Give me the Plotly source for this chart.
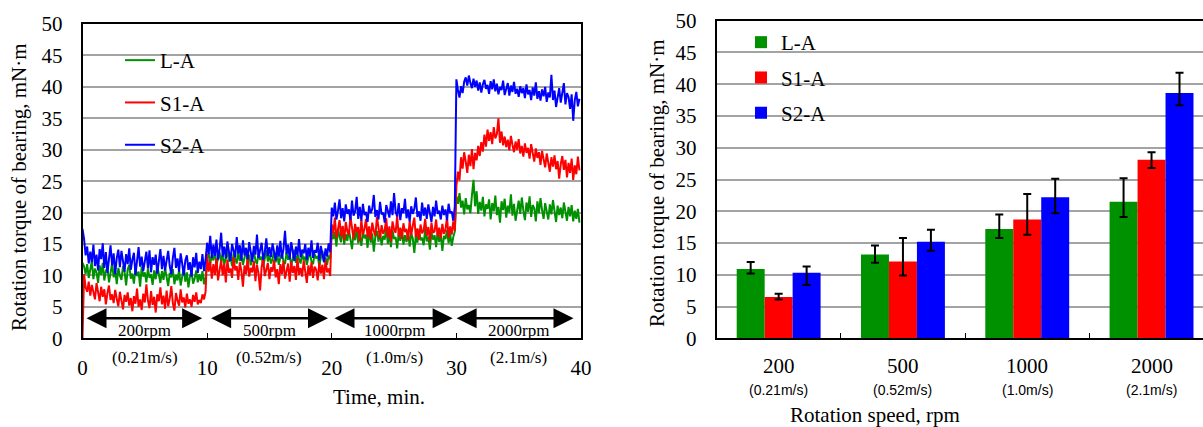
import plotly.graph_objects as go

# ---------------------------------------------------------------------------
# Torque records (mN·m), one reading every 0.125 min, 80 readings per speed step
# ---------------------------------------------------------------------------
SAMPLE_STEP_MIN = 0.125

la_200 = [12.0, 11.4, 10.2, 11.8, 9.6, 10.9, 12.3, 9.4, 11.1, 10.5,
          8.8, 11.6, 10.1, 12.0, 9.2, 10.7, 11.3, 8.9, 10.4, 11.9,
          9.7, 10.8, 8.6, 11.2, 10.0, 9.3, 11.5, 10.6, 8.4, 10.9,
          11.7, 9.5, 10.3, 8.7, 11.0, 9.9, 10.6, 8.2, 11.4, 9.8,
          10.5, 8.9, 11.1, 9.6, 10.2, 8.5, 10.8, 9.4, 11.6, 10.0,
          8.8, 10.7, 9.3, 11.2, 9.9, 8.3, 10.4, 9.7, 11.0, 8.6,
          10.1, 9.2, 10.9, 8.4, 9.8, 11.3, 9.0, 10.5, 8.1, 9.9,
          10.6, 8.7, 9.5, 10.8, 8.9, 10.2, 9.1, 10.7, 8.6, 9.7]
la_500 = [12.8, 13.6, 11.9, 13.2, 12.4, 14.0, 11.6, 12.9, 13.7, 12.1,
          13.4, 11.8, 12.6, 14.1, 12.2, 13.0, 11.5, 13.5, 12.7, 11.9,
          13.8, 12.3, 13.1, 11.7, 12.8, 14.2, 12.0, 13.3, 11.6, 12.9,
          13.9, 12.4, 11.8, 13.6, 12.5, 13.0, 11.4, 12.7, 14.0, 12.2,
          13.2, 11.9, 12.6, 13.8, 12.1, 13.4, 11.7, 12.9, 13.5, 12.3,
          11.8, 13.7, 12.5, 13.1, 11.6, 12.8, 14.1, 12.0, 13.3, 12.6,
          11.9, 13.5, 12.4, 13.0, 11.7, 12.9, 13.6, 12.2, 11.8, 13.4,
          12.7, 13.1, 11.5, 12.8, 13.9, 12.3, 12.9, 11.7, 13.2, 12.6]
la_1000 = [17.2, 15.8, 16.9, 14.6, 17.5, 16.1, 15.3, 17.8, 14.9, 16.6,
           15.5, 17.3, 16.0, 14.2, 16.8, 15.6, 17.6, 15.1, 16.4, 14.7,
           17.0, 15.9, 16.5, 14.4, 17.4, 15.2, 16.7, 13.8, 16.2, 17.1,
           15.4, 16.9, 14.8, 16.3, 15.7, 17.7, 15.0, 16.6, 14.5, 17.2,
           15.8, 16.1, 14.3, 16.8, 15.5, 17.4, 14.9, 16.4, 15.3, 17.0,
           14.6, 16.7, 15.9, 13.6, 16.5, 15.2, 17.3, 15.6, 16.0, 14.8,
           17.5, 15.4, 16.2, 14.1, 16.9, 15.7, 16.4, 14.5, 17.1, 15.3,
           16.6, 13.9, 16.3, 15.8, 17.2, 15.1, 16.7, 14.7, 16.1, 17.0]
la_2000 = [22.6, 21.4, 23.1, 20.8, 21.9, 19.7, 22.3, 20.5, 21.2, 19.9,
           22.8, 25.2, 21.0, 23.4, 19.8, 21.7, 20.3, 22.5, 19.4, 21.3,
           20.6, 22.1, 18.9, 21.5, 20.2, 22.7, 19.6, 20.9, 18.4, 21.8,
           20.4, 22.2, 19.2, 21.1, 20.0, 22.9, 19.5, 21.4, 18.7, 20.8,
           21.9, 19.8, 22.4, 20.3, 18.8, 21.6, 20.1, 22.6, 19.3, 21.2,
           20.7, 18.6, 21.8, 19.9, 22.3, 20.4, 19.0, 21.5, 20.2, 18.9,
           21.3, 19.7, 22.0, 20.5, 18.5, 21.1, 19.6, 20.8, 19.1, 21.6,
           20.0, 18.7, 20.9, 19.4, 21.2, 18.6, 20.3, 19.0, 20.6, 18.4]

s1_200 = [0.0, 10.2, 8.1, 7.4, 9.0, 6.8, 8.5, 7.1, 6.2, 8.8,
          7.5, 5.9, 8.2, 6.6, 7.8, 5.4, 7.2, 8.4, 6.1, 7.0,
          5.6, 7.7, 6.3, 5.1, 7.4, 6.0, 4.6, 6.9, 5.8, 7.3,
          5.2, 6.4, 4.3, 6.7, 5.5, 7.9, 5.0, 6.2, 4.5, 7.1,
          5.7, 8.6, 6.0, 4.8, 7.5, 5.3, 6.6, 4.1, 7.0, 5.9,
          8.1, 5.4, 6.8, 4.7, 7.6, 5.1, 6.3, 8.3, 5.6, 4.4,
          7.2, 6.0, 5.2, 7.8, 5.7, 6.5, 4.9, 7.1, 5.5, 6.2,
          5.0, 6.9, 5.8, 7.3, 5.4, 6.1, 5.6, 7.0, 6.2, 7.4]
s1_500 = [13.4, 10.6, 12.2, 9.5, 11.8, 10.1, 12.7, 9.2, 11.3, 12.4,
          10.0, 11.9, 8.9, 12.5, 10.4, 11.1, 9.6, 12.9, 10.8, 11.5,
          9.3, 12.1, 10.7, 8.2, 11.6, 10.2, 12.8, 9.8, 11.2, 10.5,
          12.3, 9.1, 11.7, 10.3, 7.6, 11.4, 12.6, 9.9, 10.9, 12.0,
          9.4, 11.3, 10.6, 12.5, 9.7, 11.0, 8.6, 11.8, 10.2, 12.3,
          9.5, 10.8, 11.9, 9.0, 12.2, 10.4, 11.5, 9.3, 12.7, 10.1,
          11.2, 9.8, 12.4, 10.6, 8.8, 11.6, 10.0, 12.1, 9.6, 11.4,
          10.9, 9.2, 12.0, 10.3, 11.7, 9.4, 12.6, 10.5, 11.1, 9.9]
s1_1000 = [18.1, 16.7, 19.2, 15.9, 17.6, 18.8, 16.2, 17.9, 15.6, 18.5,
           17.0, 16.4, 19.4, 17.3, 15.8, 18.2, 16.9, 17.7, 15.5, 18.9,
           16.5, 17.4, 19.0, 16.1, 17.8, 15.7, 18.4, 17.1, 16.3, 19.3,
           17.5, 15.9, 18.0, 16.6, 17.2, 19.1, 16.0, 17.8, 15.4, 18.6,
           17.3, 16.8, 19.5, 16.2, 17.6, 15.8, 18.3, 16.9, 17.4, 15.6,
           18.7, 16.4, 17.9, 19.2, 16.1, 17.5, 15.7, 18.1, 16.7, 17.2,
           19.0, 16.3, 17.7, 15.5, 18.4, 16.8, 17.0, 18.9, 16.2, 17.6,
           15.9, 18.2, 16.6, 17.3, 19.3, 16.0, 17.8, 16.5, 18.6, 17.1]
s1_2000 = [24.2, 26.5, 25.1, 28.8, 27.0, 29.6, 28.1, 26.3, 29.2, 27.4,
           30.1, 26.9, 29.5, 28.3, 30.6, 29.0, 31.2, 29.7, 32.4, 30.5,
           33.2, 31.4, 32.8, 30.9, 33.6, 31.8, 32.5, 35.0, 31.1, 32.9,
           30.7, 32.1, 30.4, 31.6, 29.9, 32.2, 30.8, 29.6, 31.3, 30.0,
           31.7, 29.4, 30.6, 28.9, 31.0, 29.5, 30.3, 28.6, 30.9, 29.2,
           28.1, 30.2, 28.7, 29.6, 27.6, 29.8, 28.3, 27.2, 29.4, 28.0,
           26.5, 28.8, 27.3, 29.1, 26.9, 28.2, 25.4, 27.7, 29.0, 26.8,
           28.4, 25.6, 27.9, 26.3, 28.6, 25.2, 27.5, 26.1, 28.9, 26.7]

s2_200 = [17.4, 15.8, 13.2, 14.6, 11.9, 13.8, 12.1, 14.9, 11.5, 13.3,
          10.8, 14.2, 12.6, 15.1, 11.2, 13.7, 10.4, 12.9, 14.8, 11.6,
          13.5, 10.2, 12.8, 14.1, 11.3, 13.9, 12.2, 10.6, 13.4, 11.8,
          14.3, 10.9, 12.5, 13.6, 10.1, 12.7, 14.5, 11.4, 13.0, 10.7,
          12.4, 13.8, 11.1, 14.0, 10.5, 12.9, 11.7, 13.3, 10.3, 12.6,
          14.2, 11.0, 13.1, 10.8, 12.3, 13.9, 11.5, 10.2, 12.8, 14.4,
          11.2, 12.7, 10.6, 13.5, 11.9, 10.0, 12.4, 13.2, 10.9, 12.1,
          9.8, 12.9, 11.3, 13.6, 10.4, 12.2, 11.0, 13.4, 10.7, 12.5]
s2_500 = [15.2, 13.4, 16.3, 12.8, 14.9, 13.1, 15.7, 12.5, 14.2, 16.8,
          13.0, 14.6, 12.7, 15.4, 13.8, 12.3, 15.0, 14.1, 12.9, 16.1,
          13.5, 14.8, 12.4, 15.6, 13.2, 14.4, 12.6, 15.3, 13.9, 12.2,
          14.7, 13.3, 16.5, 12.8, 14.0, 15.2, 12.5, 13.7, 15.9, 13.1,
          14.5, 12.9, 15.1, 13.6, 12.4, 14.8, 13.0, 15.5, 12.7, 14.2,
          17.1, 13.4, 14.9, 12.6, 15.3, 13.8, 12.3, 14.6, 13.2, 15.8,
          12.9, 14.1, 13.5, 15.0, 12.5, 14.4, 13.1, 15.6, 12.8, 14.0,
          13.6, 15.2, 12.4, 14.7, 13.3, 12.1, 14.3, 13.0, 15.1, 13.7]
s2_1000 = [20.8, 19.4, 21.6, 18.9, 20.3, 22.1, 19.1, 20.7, 18.6, 21.3,
           19.8, 20.5, 18.8, 21.9, 19.5, 20.2, 22.5, 19.0, 20.9, 18.7,
           21.4, 19.6, 20.1, 18.5, 21.1, 19.9, 20.6, 22.8, 19.3, 20.4,
           18.9, 21.7, 19.7, 20.0, 18.4, 21.2, 20.3, 19.2, 21.8, 19.6,
           23.1, 20.1, 19.4, 21.5, 18.8, 20.7, 19.9, 22.2, 19.1, 20.5,
           18.6, 21.0, 19.8, 20.6, 22.4, 19.3, 20.2, 18.7, 21.6, 19.5,
           20.8, 19.0, 21.3, 19.7, 18.5, 20.9, 19.4, 21.9, 19.8, 20.3,
           18.9, 21.1, 19.6, 20.5, 18.8, 21.4, 19.9, 20.2, 18.7, 21.0]
s2_2000 = [41.2, 39.5, 38.3, 40.1, 39.0, 40.8, 41.5, 40.2, 41.8, 40.6,
           39.8, 41.3, 40.0, 41.0, 39.4, 40.7, 39.1, 40.4, 41.1, 39.7,
           40.3, 38.9, 40.9, 39.6, 41.2, 39.3, 40.5, 38.8, 40.0, 39.5,
           41.0, 38.7, 39.9, 40.6, 38.6, 40.2, 39.2, 40.8, 38.9, 39.7,
           38.4, 40.1, 39.0, 39.8, 38.2, 40.4, 38.8, 39.5, 37.9, 39.9,
           38.6, 40.7, 38.1, 39.3, 37.8, 39.6, 38.5, 40.0, 37.6, 39.1,
           38.3, 41.9, 37.9, 39.4, 36.8, 38.7, 39.8, 37.5, 38.9, 40.6,
           37.2, 39.0, 38.4, 36.5, 38.8, 34.6, 37.9, 39.2, 36.9, 38.1]

# Mean torque per speed with upper / lower error extents (mN·m)
speed_rpm = ["200", "500", "1000", "2000"]
speed_ms = ["(0.21m/s)", "(0.52m/s)", "(1.0m/s)", "(2.1m/s)"]
mean_la = [10.9, 13.2, 17.2, 21.5]
mean_s1 = [6.5, 12.1, 18.7, 28.1]
mean_s2 = [10.3, 15.2, 22.2, 38.6]
err_up_la = [1.1, 1.4, 2.3, 3.7]
err_dn_la = [0.7, 1.3, 1.4, 2.4]
err_up_s1 = [0.5, 3.7, 4.0, 1.2]
err_dn_s1 = [0.4, 2.2, 2.4, 1.3]
err_up_s2 = [1.0, 1.9, 2.9, 3.2]
err_dn_s2 = [1.9, 1.4, 2.5, 1.9]

# Speed-step spans on the time axis (min) and their labels
step_spans = [(0.2, 9.6), (10.2, 19.7), (20.1, 29.7), (29.9, 39.4)]
step_centres = [5, 15, 25, 35]
step_labels = ["200rpm", "500rpm", "1000rpm", "2000rpm"]
step_speeds = ["(0.21m/s)", "(0.52m/s)", "(1.0m/s)", "(2.1m/s)"]

series_names = ["L-A", "S1-A", "S2-A"]
colors = ["#009100", "#ff0000", "#0000ff"]

SERIF = "Liberation Serif"
SANS = "Liberation Sans"
W, H = 1203, 427


def px_x(p):
    return p / W


def px_y(p):
    return 1 - p / H


la_trace = la_200 + la_500 + la_1000 + la_2000
s1_trace = s1_200 + s1_500 + s1_1000 + s1_2000
s2_trace = s2_200 + s2_500 + s2_1000 + s2_2000
time_min = [i * SAMPLE_STEP_MIN for i in range(len(la_trace))]

fig = go.Figure()

for name, vals, col in zip(series_names, [la_trace, s1_trace, s2_trace], colors):
    fig.add_trace(go.Scatter(
        x=time_min, y=vals, mode="lines", name=name,
        line=dict(color=col, width=2),
        xaxis="x", yaxis="y", legend="legend", legendgroup="t" + name,
    ))

for name, means, up, dn, col in zip(
        series_names, [mean_la, mean_s1, mean_s2],
        [err_up_la, err_up_s1, err_up_s2], [err_dn_la, err_dn_s1, err_dn_s2], colors):
    fig.add_trace(go.Bar(
        x=speed_rpm, y=means, name=name, marker=dict(color=col, line=dict(width=0)),
        error_y=dict(type="data", symmetric=False, array=up, arrayminus=dn,
                     color="black", thickness=2, width=4),
        xaxis="x2", yaxis="y2", legend="legend2", legendgroup="b" + name,
    ))

grid = dict(showgrid=True, gridcolor="#a3a3a3", gridwidth=1.5)
tick_font = dict(family=SERIF, size=21, color="black")

fig.update_layout(
    width=W, height=H, margin=dict(l=0, r=0, t=0, b=0, autoexpand=False),
    paper_bgcolor="white", plot_bgcolor="white",
    barmode="group", bargap=0.325, bargroupgap=0,
    showlegend=True,
    xaxis=dict(domain=[px_x(82.5), px_x(581)], range=[0, 40], dtick=10,
               showline=True, linecolor="black", linewidth=1.5, mirror=True,
               ticks="inside", ticklen=6, tickcolor="black", tickwidth=1,
               showgrid=False, zeroline=False, tickfont=tick_font,
               ticklabelstandoff=10, automargin=False),
    yaxis=dict(domain=[px_y(338.3), px_y(24)], range=[0, 50], dtick=5,
               showline=True, linecolor="black", linewidth=1.5, mirror=True,
               ticks="", zeroline=False, tickfont=tick_font,
               ticklabelstandoff=14, automargin=False, **grid),
    xaxis2=dict(domain=[px_x(716.5), 1.0], range=[-0.5, 3.414], type="category",
                showline=True, linecolor="black", linewidth=1.5, mirror=True,
                ticks="inside", tickson="boundaries", ticklen=6, tickcolor="black",
                showticklabels=False, showgrid=False, zeroline=False, anchor="y2",
                automargin=False),
    yaxis2=dict(domain=[px_y(338.3), px_y(20.7)], range=[0, 50], dtick=5,
                showline=True, linecolor="black", linewidth=1.5, mirror=False,
                ticks="", zeroline=False, tickfont=tick_font, anchor="x2",
                ticklabelstandoff=14, automargin=False, **grid),
    legend=dict(x=px_x(120), y=px_y(40), xanchor="left", yanchor="top",
                bgcolor="rgba(0,0,0,0)", borderwidth=0, tracegroupgap=12,
                font=dict(family=SERIF, size=21, color="black"), itemwidth=30),
    legend2=dict(x=px_x(741), y=px_y(22), xanchor="left", yanchor="top",
                 bgcolor="rgba(0,0,0,0)", borderwidth=0, tracegroupgap=5,
                 font=dict(family=SERIF, size=21, color="black"), itemwidth=30),
)

# White panels behind the legends (over the gridlines, under the data)
fig.add_shape(type="rect", xref="paper", yref="paper",
              x0=px_x(94), x1=px_x(236), y0=px_y(160), y1=px_y(40),
              fillcolor="white", line=dict(width=0), layer="between")
fig.add_shape(type="rect", xref="paper", yref="paper",
              x0=px_x(730), x1=px_x(852), y0=px_y(130), y1=px_y(24),
              fillcolor="white", line=dict(width=0), layer="between")

annotations = []
# double-headed arrows marking each speed step
for (a, b) in step_spans:
    annotations.append(dict(
        x=b, y=3.2, ax=a, ay=3.2, xref="x", yref="y", axref="x", ayref="y",
        text="", showarrow=True, arrowhead=2, startarrowhead=2,
        arrowside="end+start", arrowsize=1.6, startarrowsize=1.6,
        arrowwidth=2.5, arrowcolor="black"))
for c, lab, spd in zip(step_centres, step_labels, step_speeds):
    annotations.append(dict(x=c, y=px_y(330), xref="x", yref="paper", text=lab,
                            showarrow=False, font=dict(family=SERIF, size=17, color="black"),
                            yanchor="middle"))
    annotations.append(dict(x=c, y=px_y(357), xref="x", yref="paper", text=spd,
                            showarrow=False, font=dict(family=SERIF, size=17, color="black"),
                            yanchor="middle"))

# axis titles
annotations.append(dict(x=px_x(331), y=px_y(397), xref="paper", yref="paper",
                        text="Time, min.", showarrow=False, yanchor="middle",
                        font=dict(family=SERIF, size=21, color="black")))
annotations.append(dict(x=px_x(19), y=px_y(187), xref="paper", yref="paper",
                        text="Rotation torque of bearing, mN·m", textangle=-90,
                        xanchor="center", yanchor="middle",
                        showarrow=False, font=dict(family=SERIF, size=21, color="black")))
annotations.append(dict(x=px_x(657), y=px_y(183), xref="paper", yref="paper",
                        text="Rotation torque of bearing, mN·m", textangle=-90,
                        xanchor="center", yanchor="middle",
                        showarrow=False, font=dict(family=SERIF, size=21, color="black")))
annotations.append(dict(x=px_x(962), y=px_y(415), xref="paper", yref="paper",
                        text="Rotation speed, rpm", showarrow=False, yanchor="middle",
                        font=dict(family=SERIF, size=21, color="black")))
# category labels of the bar chart (positioned by category index)
for i, (rpm, ms) in enumerate(zip(speed_rpm, speed_ms)):
    annotations.append(dict(x=i, y=px_y(365.5), xref="x2", yref="paper", text=rpm,
                            showarrow=False, yanchor="middle",
                            font=dict(family=SERIF, size=21, color="black")))
    annotations.append(dict(x=i, y=px_y(390), xref="x2", yref="paper", text=ms,
                            showarrow=False, yanchor="middle",
                            font=dict(family=SANS, size=14, color="black")))

fig.update_layout(annotations=annotations)

fig.write_html("out.html")
